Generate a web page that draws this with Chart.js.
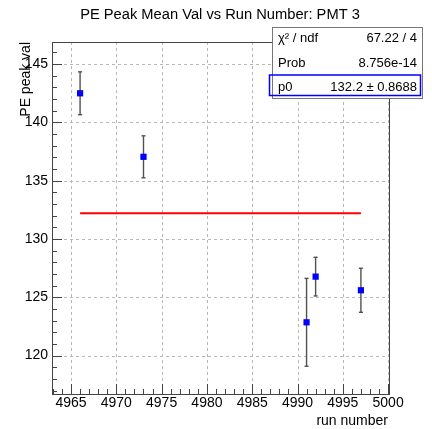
<!DOCTYPE html>
<html>
<head>
<meta charset="utf-8">
<script src="https://cdn.jsdelivr.net/npm/chart.js@4.4.1/dist/chart.umd.min.js"></script>
<style>
  html, body { margin: 0; padding: 0; background: #fff; }
  #wrap { width: 432px; height: 429px; }
</style>
</head>
<body>
<div id="wrap"><canvas id="peChart" width="432" height="429"></canvas></div>
<script>
// run numbers and fitted PE peak means (PMT 3)
const runs = [4966, 4973, 4991, 4992, 4997];
const peakVals = [142.5, 137.05, 122.85, 126.77, 125.6];
const peakErrs = [1.84, 1.8, 3.77, 1.66, 1.89];

// constant (pol0) fit result
const fitP0 = 132.2;
const fitP0Err = 0.8688;
const statLabels = ["\u03c7\u00b2 / ndf", "Prob", "p0"];
const statValues = ["67.22 / 4", "8.756e-14", fitP0 + " \u00b1 " + fitP0Err];

const xTicks = [4965, 4970, 4975, 4980, 4985, 4990, 4995, 5000];
const yTicks = [120, 125, 130, 135, 140, 145];

const FONT = "'Liberation Sans', Arial, Helvetica, sans-serif";

function strokeLine(ctx, x1, y1, x2, y2) {
  ctx.beginPath();
  ctx.moveTo(x1, y1);
  ctx.lineTo(x2, y2);
  ctx.stroke();
}

const rootFrame = {
  id: "rootFrame",
  beforeDatasetsDraw(chart) {
    const { ctx, chartArea: { left, right, top, bottom }, scales: { x, y } } = chart;
    ctx.save();

    // dashed grid on major ticks
    ctx.strokeStyle = "#b8b8b8";
    ctx.lineWidth = 1;
    ctx.setLineDash([3, 3]);
    xTicks.forEach(v => {
      const px = Math.round(x.getPixelForValue(v)) + 0.5;
      strokeLine(ctx, px, top, px, bottom);
    });
    yTicks.forEach(v => {
      const py = Math.round(y.getPixelForValue(v)) + 0.5;
      strokeLine(ctx, left, py, right, py);
    });
    ctx.setLineDash([]);

    // error bars with small caps
    ctx.strokeStyle = "#505050";
    ctx.lineWidth = 1.4;
    runs.forEach((r, i) => {
      const px = x.getPixelForValue(r);
      const yHi = y.getPixelForValue(peakVals[i] + peakErrs[i]);
      const yLo = y.getPixelForValue(peakVals[i] - peakErrs[i]);
      strokeLine(ctx, px, yHi, px, yLo);
      strokeLine(ctx, px - 2, yHi, px + 2, yHi);
      strokeLine(ctx, px - 2, yLo, px + 2, yLo);
    });
    ctx.restore();
  },
  afterDraw(chart) {
    const { ctx, chartArea: { left, right, top, bottom }, scales: { x, y } } = chart;
    ctx.save();

    // frame
    ctx.strokeStyle = "#444";
    ctx.lineWidth = 1;
    ctx.strokeRect(left + 0.5, top + 0.5, right - left, bottom - top);

    // inward ticks, major every 5, minor every 1
    for (let v = Math.ceil(x.min); v <= x.max; v++) {
      const px = Math.round(x.getPixelForValue(v)) + 0.5;
      const len = v % 5 === 0 ? 10 : 5;
      strokeLine(ctx, px, bottom, px, bottom - len);
    }
    for (let v = Math.ceil(y.min); v <= y.max; v++) {
      const py = Math.round(y.getPixelForValue(v)) + 0.5;
      const len = v % 5 === 0 ? 10 : 5;
      strokeLine(ctx, left, py, left + len, py);
    }

    // title
    ctx.fillStyle = "#000";
    ctx.font = "14.7px " + FONT;
    ctx.textAlign = "center";
    ctx.textBaseline = "alphabetic";
    ctx.fillText("PE Peak Mean Val vs Run Number: PMT 3", 220, 18.5);

    // axis titles
    ctx.font = "14px " + FONT;
    ctx.textAlign = "right";
    ctx.fillText("run number", right - 1, 425);
    ctx.save();
    ctx.translate(30, top);
    ctx.rotate(-Math.PI / 2);
    ctx.textAlign = "right";
    ctx.fillText("PE peak val", 0, 0);
    ctx.restore();

    // stats box
    const bx = 272, by = 27, bw = 150, bh = 71;
    ctx.fillStyle = "#fff";
    ctx.fillRect(bx, by, bw, bh);
    ctx.strokeStyle = "#777";
    ctx.lineWidth = 1;
    ctx.strokeRect(bx + 0.5, by + 0.5, bw, bh);

    ctx.strokeStyle = "#0000ff";
    ctx.lineWidth = 1.5;
    ctx.strokeRect(269.5, 75, 151, 20.5);

    ctx.fillStyle = "#000";
    ctx.font = "13px " + FONT;
    const rowBase = [41.5, 67, 91];
    statLabels.forEach((lab, i) => {
      ctx.textAlign = "left";
      ctx.fillText(lab, 278, rowBase[i]);
      ctx.textAlign = "right";
      ctx.fillText(statValues[i], 417, rowBase[i]);
    });
    ctx.restore();
  }
};

const tickFont = { family: FONT, size: 14 };

new Chart(document.getElementById("peChart"), {
  type: "scatter",
  data: {
    datasets: [
      {
        label: "PE peak val",
        data: runs.map((r, i) => ({ x: r, y: peakVals[i] })),
        pointStyle: "rect",
        pointRadius: 4.4,
        backgroundColor: "#0000ff",
        borderWidth: 0,
        order: 0
      },
      {
        type: "line",
        label: "pol0 fit",
        data: [{ x: runs[0], y: fitP0 }, { x: runs[runs.length - 1], y: fitP0 }],
        borderColor: "#ff0000",
        borderWidth: 2,
        pointRadius: 0,
        fill: false,
        order: 1
      }
    ]
  },
  options: {
    responsive: false,
    animation: false,
    devicePixelRatio: 1,
    layout: { padding: { top: 42, right: 43, left: 0, bottom: 0 } },
    plugins: {
      legend: { display: false },
      tooltip: { enabled: false },
      title: { display: false }
    },
    scales: {
      x: {
        type: "linear",
        min: 4962.9,
        max: 5000.1,
        grid: { display: false, drawTicks: false },
        border: { display: false },
        afterBuildTicks: s => { s.ticks = xTicks.map(v => ({ value: v })); },
        afterFit: s => { s.height = 35; },
        ticks: { font: tickFont, color: "#000", padding: 1, maxRotation: 0, autoSkip: false, callback: v => String(v) }
      },
      y: {
        type: "linear",
        min: 116.7,
        max: 146.9,
        grid: { display: false, drawTicks: false },
        border: { display: false },
        afterBuildTicks: s => { s.ticks = yTicks.map(v => ({ value: v })); },
        afterFit: s => { s.width = 52; },
        ticks: { font: tickFont, color: "#000", padding: 4, autoSkip: false, callback: v => String(v) }
      }
    }
  },
  plugins: [rootFrame]
});
</script>
</body>
</html>
